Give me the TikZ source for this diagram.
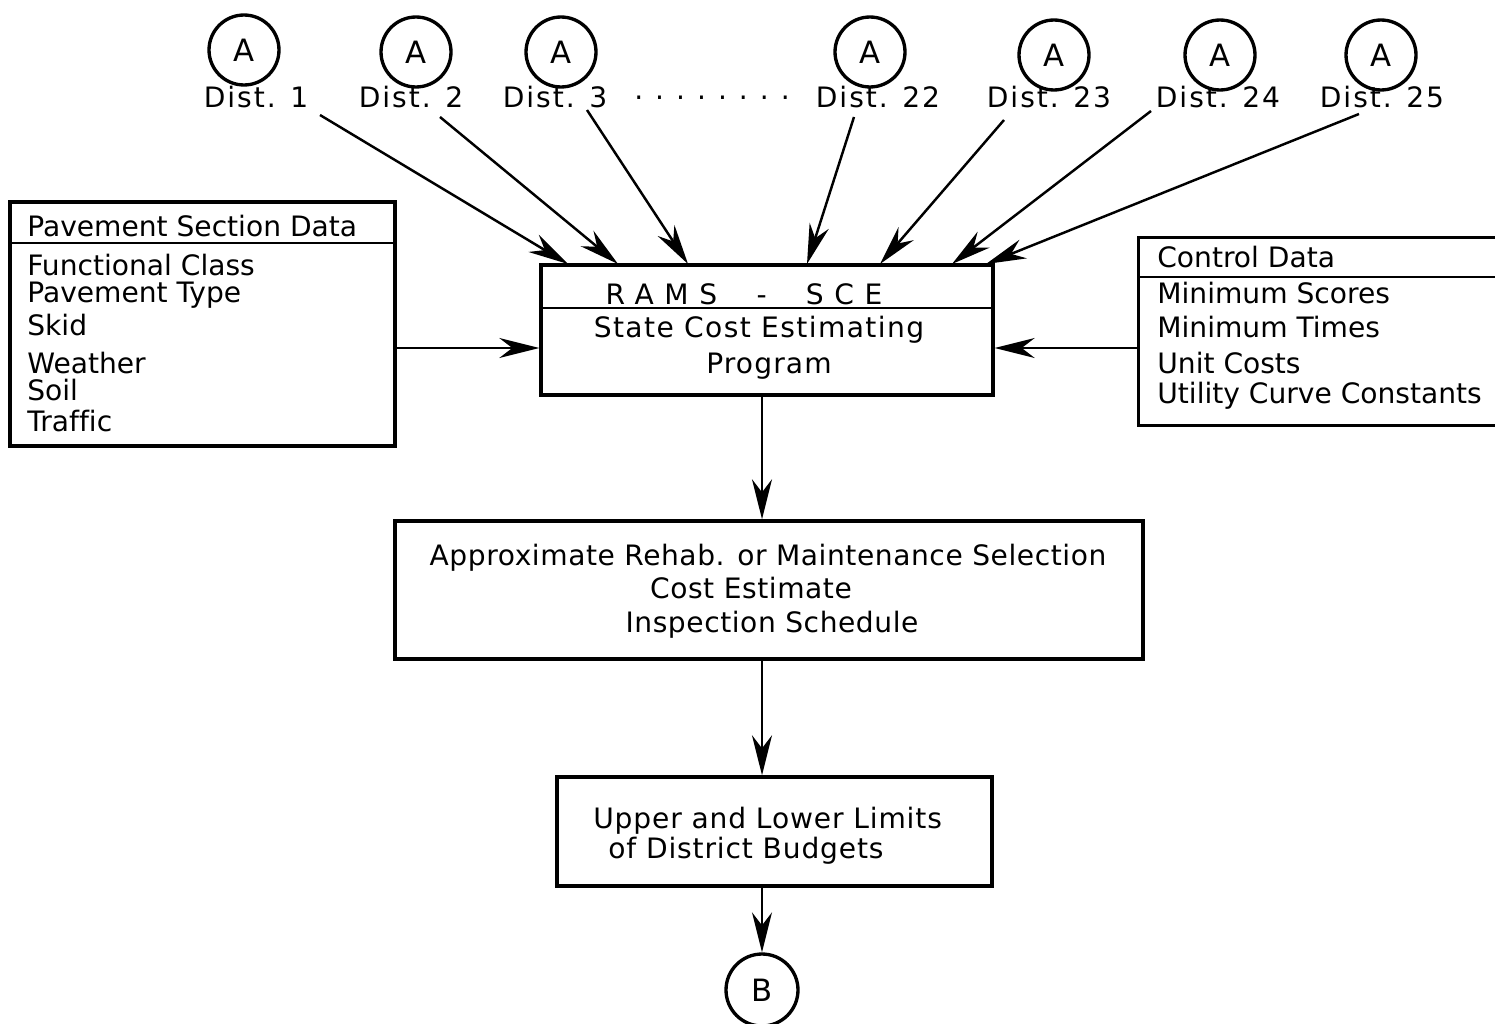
\documentclass[tikz,border=0pt]{standalone}
\usepackage{fontspec}
\setmainfont[Ligatures=NoCommon]{DejaVu Sans}
\usetikzlibrary{arrows.meta,calc}
\newcommand{\trk}[1]{\addfontfeature{LetterSpace=#1}}
\begin{document}
\begin{tikzpicture}[x=0.02cm,y=-0.02cm,
  every node/.style={font=\fontsize{16pt}{19pt}\selectfont},
  boxshape/.style={rectangle, inner sep=0pt},
  box/.style={boxshape, draw, line width=2pt},
  rule/.style={line width=1.6pt},
  conn/.style={circle, draw, line width=1.9pt, minimum size=1.4cm, inner sep=0pt, font=\fontsize{17.5pt}{20pt}\selectfont},
  txtw/.style={inner sep=0pt, anchor=base west},
  txtc/.style={inner sep=0pt, anchor=base},
  dist/.style={txtc, font=\fontsize{16pt}{19pt}\selectfont\trk{7}},
  arr/.style={line width=1.4pt, -{Stealth[length=0.8cm,width=0.4cm,inset=0.26cm]}}]
\useasboundingbox (0,0) rectangle (1495,1024);
\fill[white] (0,0) rectangle (1495,1024);

% connector circles A
\node[conn] (a1) at (244,50) {A};
\node[conn] (a2) at (416,52) {A};
\node[conn] (a3) at (561,52) {A};
\node[conn] (a22) at (870,52) {A};
\node[conn] (a23) at (1054,55) {A};
\node[conn] (a24) at (1220,55) {A};
\node[conn] (a25) at (1381,55) {A};

% district labels
\node[dist] (d1) at (256,108) {Dist. 1};
\node[dist] (d2) at (411,108) {Dist. 2};
\node[dist] (d3) at (555,108) {Dist. 3};
\node[txtc] (dots) at (712,108) {·\hspace{0.24cm}·\hspace{0.24cm}·\hspace{0.24cm}·\hspace{0.24cm}·\hspace{0.24cm}·\hspace{0.24cm}·\hspace{0.24cm}·};
\node[dist] (d22) at (878,108) {Dist. 22};
\node[dist] (d23) at (1049,108) {Dist. 23};
\node[dist] (d24) at (1218,108) {Dist. 24};
\node[dist] (d25) at (1382,108) {Dist. 25};

% main boxes
\node[box, minimum width=7.7cm, minimum height=4.88cm] (pav) at (202.5,324) {};
\draw[rule] (pav.west |- 0,243) -- (pav.east |- 0,243);
\node[txtw] (pavh) at (27,236) {Pavement Section Data};
\node[txtw] (p1) at (27,275) {Functional Class};
\node[txtw] (p2) at (27,302) {Pavement Type};
\node[txtw] (p3) at (27,335) {Skid};
\node[txtw] (p4) at (27,373) {Weather};
\node[txtw] (p5) at (27,400) {Soil};
\node[txtw] (p6) at (27,431) {Traffic};

\node[box, minimum width=9.04cm, minimum height=2.6cm] (rams) at (767,330) {};
\draw[rule] (rams.west |- 0,308) -- (rams.east |- 0,308);
\node[txtc] (ramsh) at (744,304) {\trk{38}RAMS\ \ -\ \ SCE};
\node[txtc] (r1) at (759,337) {\trk{5}State Cost Estimating};
\node[txtc] (r2) at (769,373) {\trk{4}Program};

\node[boxshape, minimum width=7.12cm, minimum height=3.74cm] (ctrl) at (1317,331.5) {};
\draw[line width=2pt] (ctrl.north east) -- (ctrl.north west) -- (ctrl.south west) -- (ctrl.south east);
\draw[rule] (ctrl.west |- 0,277) -- (ctrl.east |- 0,277);
\node[txtw] (ch) at (1157,267) {Control Data};
\node[txtw] (c1) at (1157,303) {Minimum Scores};
\node[txtw] (c2) at (1157,337) {Minimum Times};
\node[txtw] (c3) at (1157,373) {Unit Costs};
\node[txtw] (c4) at (1157,403) {Utility Curve Constants};

\node[box, minimum width=14.96cm, minimum height=2.76cm] (appr) at (769,590) {};
\node[txtc] (ap1) at (768,565) {\trk{2}Approximate Rehab. or Maintenance Selection};
\node[txtc] (ap2) at (751,598) {\trk{2}Cost Estimate};
\node[txtc] (ap3) at (772,632) {\trk{2}Inspection Schedule};

\node[box, minimum width=8.7cm, minimum height=2.18cm] (upper) at (774.5,831.5) {};
\node[txtw] (u1) at (593,828) {\trk{3}Upper and Lower Limits};
\node[txtw] (u2) at (608,858) {\trk{3}of District Budgets};

\node[conn, minimum size=1.44cm] (b) at (762,990) {B};

% diagonal arrows from districts
\coordinate (s1) at (320,115);
\coordinate (s2) at (440,117);
\coordinate (s3) at (587,110);
\coordinate (s22) at (854,117);
\coordinate (s23) at (1004,120);
\coordinate (s24) at (1151,111);
\coordinate (s25) at (1359,114);
\coordinate (t1) at (568,264);
\coordinate (t2) at (618,264);
\coordinate (t3) at (688,264);
\coordinate (t22) at (807,264);
\coordinate (t23) at (880,264);
\coordinate (t24) at (952,264);
\coordinate (t25) at (986,264);
\foreach \i in {1,2,3,22,23,24,25} {\draw[arr] (s\i) -- (t\i);}

% side inputs
\coordinate (hl) at (0,348);
\draw[arr] (pav.east |- hl) -- (rams.west |- hl);
\draw[arr] (ctrl.west |- hl) -- (rams.east |- hl);

% vertical flow
\draw[arr] (rams.south -| b) -- (appr.north -| b);
\draw[arr] (appr.south -| b) -- (upper.north -| b);
\draw[arr] (upper.south -| b) -- (b.north);
\end{tikzpicture}
\end{document}
